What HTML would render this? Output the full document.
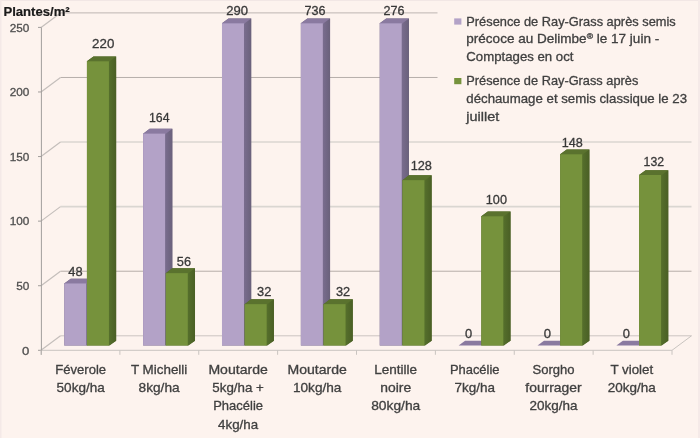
<!DOCTYPE html>
<html><head><meta charset="utf-8"><style>
html,body{margin:0;padding:0;background:#fdf3ee;}
svg{display:block;font-family:"Liberation Sans",sans-serif;will-change:transform;}
</style></head><body>
<svg width="700" height="438" viewBox="0 0 700 438">
<defs>
<linearGradient id="ps" x1="0" y1="0" x2="1" y2="0"><stop offset="0" stop-color="#7a6d8f"/><stop offset="1" stop-color="#6a617b"/></linearGradient>
<linearGradient id="gs" x1="0" y1="0" x2="1" y2="0"><stop offset="0" stop-color="#56702c"/><stop offset="1" stop-color="#4a5f25"/></linearGradient>
</defs>
<rect width="700" height="438" fill="#fdf3ee"/>
<rect x="0" y="0" width="700" height="1" fill="#f2e7e5"/>
<rect x="698" y="0" width="2" height="438" fill="#f5eae8"/>
<rect x="0" y="0" width="1.5" height="438" fill="#f4e9e7"/>
<line x1="60.5" y1="335.8" x2="691.5" y2="335.8" stroke="#cbc4c1" stroke-width="1"/>
<line x1="41" y1="350.3" x2="60.5" y2="335.8" stroke="#c4bebb" stroke-width="1.2"/>
<line x1="60.5" y1="271.22" x2="691.5" y2="271.22" stroke="#b6aeaa" stroke-width="1"/>
<line x1="41" y1="285.72" x2="60.5" y2="271.22" stroke="#c4bebb" stroke-width="1.2"/>
<line x1="60.5" y1="206.64" x2="691.5" y2="206.64" stroke="#dad6d1" stroke-width="1.6"/>
<line x1="41" y1="221.14" x2="60.5" y2="206.64" stroke="#c4bebb" stroke-width="1.2"/>
<line x1="60.5" y1="142.06" x2="691.5" y2="142.06" stroke="#dad6d1" stroke-width="1.6"/>
<line x1="41" y1="156.56" x2="60.5" y2="142.06" stroke="#c4bebb" stroke-width="1.2"/>
<line x1="60.5" y1="77.48" x2="437.5" y2="77.48" stroke="#b6aeaa" stroke-width="1"/>
<line x1="41" y1="91.98" x2="60.5" y2="77.48" stroke="#c4bebb" stroke-width="1.2"/>
<line x1="60.5" y1="12.9" x2="437.5" y2="12.9" stroke="#bdb5b2" stroke-width="1"/>
<line x1="41" y1="27.4" x2="60.5" y2="12.9" stroke="#c4bebb" stroke-width="1.2"/>
<line x1="41" y1="350.3" x2="672" y2="350.3" stroke="#c9c4c0" stroke-width="1"/>
<line x1="672" y1="350.3" x2="691.5" y2="335.8" stroke="#c9c4c0" stroke-width="1"/>
<line x1="41.4" y1="27.4" x2="41.4" y2="354.8" stroke="#a29e9c" stroke-width="1"/>
<line x1="38" y1="350.3" x2="41" y2="350.3" stroke="#a29e9c" stroke-width="1"/>
<line x1="38" y1="285.72" x2="41" y2="285.72" stroke="#a29e9c" stroke-width="1"/>
<line x1="38" y1="221.14" x2="41" y2="221.14" stroke="#a29e9c" stroke-width="1"/>
<line x1="38" y1="156.56" x2="41" y2="156.56" stroke="#a29e9c" stroke-width="1"/>
<line x1="38" y1="91.98" x2="41" y2="91.98" stroke="#a29e9c" stroke-width="1"/>
<line x1="38" y1="27.4" x2="41" y2="27.4" stroke="#a29e9c" stroke-width="1"/>
<line x1="41" y1="350.3" x2="41" y2="354.8" stroke="#c9c4c0" stroke-width="1"/>
<line x1="119.88" y1="350.3" x2="119.88" y2="354.8" stroke="#c9c4c0" stroke-width="1"/>
<line x1="198.75" y1="350.3" x2="198.75" y2="354.8" stroke="#c9c4c0" stroke-width="1"/>
<line x1="277.62" y1="350.3" x2="277.62" y2="354.8" stroke="#c9c4c0" stroke-width="1"/>
<line x1="356.5" y1="350.3" x2="356.5" y2="354.8" stroke="#c9c4c0" stroke-width="1"/>
<line x1="435.38" y1="350.3" x2="435.38" y2="354.8" stroke="#c9c4c0" stroke-width="1"/>
<line x1="514.25" y1="350.3" x2="514.25" y2="354.8" stroke="#c9c4c0" stroke-width="1"/>
<line x1="593.12" y1="350.3" x2="593.12" y2="354.8" stroke="#c9c4c0" stroke-width="1"/>
<line x1="672" y1="350.3" x2="672" y2="354.8" stroke="#c9c4c0" stroke-width="1"/>
<polygon points="64.24,283.47 70.74,278.64 93.44,278.64 93.44,340.63 86.94,345.47 64.24,345.47" fill="#716680"/><polygon points="85.94,283.47 93.44,278.64 93.44,340.63 85.94,345.47" fill="url(#ps)"/><polygon points="64.24,284.07 64.24,283.47 70.74,278.64 93.44,278.64 86.94,283.47 86.94,284.07" fill="#8a7aa0"/><rect x="64.24" y="283.47" width="22" height="62" fill="#b3a2c7"/>
<polygon points="86.94,61.31 93.44,56.48 116.14,56.48 116.14,340.63 109.64,345.47 86.94,345.47" fill="#506628"/><polygon points="108.64,61.31 116.14,56.48 116.14,340.63 108.64,345.47" fill="url(#gs)"/><polygon points="86.94,61.91 86.94,61.31 93.44,56.48 116.14,56.48 109.64,61.31 109.64,61.91" fill="#5a722e"/><rect x="86.94" y="61.31" width="22" height="284.15" fill="#76923c"/>
<polygon points="143.11,133.64 149.61,128.81 172.31,128.81 172.31,340.63 165.81,345.47 143.11,345.47" fill="#716680"/><polygon points="164.81,133.64 172.31,128.81 172.31,340.63 164.81,345.47" fill="url(#ps)"/><polygon points="143.11,134.24 143.11,133.64 149.61,128.81 172.31,128.81 165.81,133.64 165.81,134.24" fill="#8a7aa0"/><rect x="143.11" y="133.64" width="22" height="211.82" fill="#b3a2c7"/>
<polygon points="165.81,273.14 172.31,268.3 195.01,268.3 195.01,340.63 188.51,345.47 165.81,345.47" fill="#506628"/><polygon points="187.51,273.14 195.01,268.3 195.01,340.63 187.51,345.47" fill="url(#gs)"/><polygon points="165.81,273.74 165.81,273.14 172.31,268.3 195.01,268.3 188.51,273.14 188.51,273.74" fill="#5a722e"/><rect x="165.81" y="273.14" width="22" height="72.33" fill="#76923c"/>
<polygon points="221.99,23.34 228.49,18.51 251.19,18.51 251.19,340.63 244.69,345.47 221.99,345.47" fill="#716680"/><polygon points="243.69,23.34 251.19,18.51 251.19,340.63 243.69,345.47" fill="url(#ps)"/><polygon points="221.99,23.94 221.99,23.34 228.49,18.51 251.19,18.51 244.69,23.34 244.69,23.94" fill="#8a7aa0"/><rect x="221.99" y="23.34" width="22" height="322.13" fill="#b3a2c7"/>
<polygon points="244.69,304.14 251.19,299.3 273.89,299.3 273.89,340.63 267.39,345.47 244.69,345.47" fill="#506628"/><polygon points="266.39,304.14 273.89,299.3 273.89,340.63 266.39,345.47" fill="url(#gs)"/><polygon points="244.69,304.74 244.69,304.14 251.19,299.3 273.89,299.3 267.39,304.14 267.39,304.74" fill="#5a722e"/><rect x="244.69" y="304.14" width="22" height="41.33" fill="#76923c"/>
<polygon points="300.86,23.34 307.36,18.51 330.06,18.51 330.06,340.63 323.56,345.47 300.86,345.47" fill="#716680"/><polygon points="322.56,23.34 330.06,18.51 330.06,340.63 322.56,345.47" fill="url(#ps)"/><polygon points="300.86,23.94 300.86,23.34 307.36,18.51 330.06,18.51 323.56,23.34 323.56,23.94" fill="#8a7aa0"/><rect x="300.86" y="23.34" width="22" height="322.13" fill="#b3a2c7"/>
<polygon points="323.56,304.14 330.06,299.3 352.76,299.3 352.76,340.63 346.26,345.47 323.56,345.47" fill="#506628"/><polygon points="345.26,304.14 352.76,299.3 352.76,340.63 345.26,345.47" fill="url(#gs)"/><polygon points="323.56,304.74 323.56,304.14 330.06,299.3 352.76,299.3 346.26,304.14 346.26,304.74" fill="#5a722e"/><rect x="323.56" y="304.14" width="22" height="41.33" fill="#76923c"/>
<polygon points="379.74,23.34 386.24,18.51 408.94,18.51 408.94,340.63 402.44,345.47 379.74,345.47" fill="#716680"/><polygon points="401.44,23.34 408.94,18.51 408.94,340.63 401.44,345.47" fill="url(#ps)"/><polygon points="379.74,23.94 379.74,23.34 386.24,18.51 408.94,18.51 402.44,23.34 402.44,23.94" fill="#8a7aa0"/><rect x="379.74" y="23.34" width="22" height="322.13" fill="#b3a2c7"/>
<polygon points="402.44,180.14 408.94,175.31 431.64,175.31 431.64,340.63 425.14,345.47 402.44,345.47" fill="#506628"/><polygon points="424.14,180.14 431.64,175.31 431.64,340.63 424.14,345.47" fill="url(#gs)"/><polygon points="402.44,180.74 402.44,180.14 408.94,175.31 431.64,175.31 425.14,180.14 425.14,180.74" fill="#5a722e"/><rect x="402.44" y="180.14" width="22" height="165.32" fill="#76923c"/>
<polygon points="458.61,345.47 465.11,340.63 487.81,340.63 481.31,345.47" fill="#8a7aa0"/>
<polygon points="481.31,216.31 487.81,211.47 510.51,211.47 510.51,340.63 504.01,345.47 481.31,345.47" fill="#506628"/><polygon points="503.01,216.31 510.51,211.47 510.51,340.63 503.01,345.47" fill="url(#gs)"/><polygon points="481.31,216.91 481.31,216.31 487.81,211.47 510.51,211.47 504.01,216.31 504.01,216.91" fill="#5a722e"/><rect x="481.31" y="216.31" width="22" height="129.16" fill="#76923c"/>
<polygon points="537.49,345.47 543.99,340.63 566.69,340.63 560.19,345.47" fill="#8a7aa0"/>
<polygon points="560.19,154.31 566.69,149.48 589.39,149.48 589.39,340.63 582.89,345.47 560.19,345.47" fill="#506628"/><polygon points="581.89,154.31 589.39,149.48 589.39,340.63 581.89,345.47" fill="url(#gs)"/><polygon points="560.19,154.91 560.19,154.31 566.69,149.48 589.39,149.48 582.89,154.31 582.89,154.91" fill="#5a722e"/><rect x="560.19" y="154.31" width="22" height="191.16" fill="#76923c"/>
<polygon points="616.36,345.47 622.86,340.63 645.56,340.63 639.06,345.47" fill="#8a7aa0"/>
<polygon points="639.06,174.98 645.56,170.14 668.26,170.14 668.26,340.63 661.76,345.47 639.06,345.47" fill="#506628"/><polygon points="660.76,174.98 668.26,170.14 668.26,340.63 660.76,345.47" fill="url(#gs)"/><polygon points="639.06,175.58 639.06,174.98 645.56,170.14 668.26,170.14 661.76,174.98 661.76,175.58" fill="#5a722e"/><rect x="639.06" y="174.98" width="22" height="170.49" fill="#76923c"/>
<text x="68.25" y="275.7" font-size="13.2" fill="#383838" stroke="#383838" stroke-width="0.3" text-anchor="start" font-weight="normal" textLength="14.3" lengthAdjust="spacingAndGlyphs">48</text>
<text x="92.1" y="48.2" font-size="13.2" fill="#383838" stroke="#383838" stroke-width="0.3" text-anchor="start" font-weight="normal" textLength="22.2" lengthAdjust="spacingAndGlyphs">220</text>
<text x="149" y="121.8" font-size="13.2" fill="#383838" stroke="#383838" stroke-width="0.3" text-anchor="start" font-weight="normal" textLength="20.5" lengthAdjust="spacingAndGlyphs">164</text>
<text x="176.8" y="265.6" font-size="13.2" fill="#383838" stroke="#383838" stroke-width="0.3" text-anchor="start" font-weight="normal" textLength="14.2" lengthAdjust="spacingAndGlyphs">56</text>
<text x="226.2" y="15" font-size="13.2" fill="#383838" stroke="#383838" stroke-width="0.3" text-anchor="start" font-weight="normal" textLength="21.8" lengthAdjust="spacingAndGlyphs">290</text>
<text x="257.05" y="296.4" font-size="13.2" fill="#383838" stroke="#383838" stroke-width="0.3" text-anchor="start" font-weight="normal" textLength="14.3" lengthAdjust="spacingAndGlyphs">32</text>
<text x="304.5" y="14.8" font-size="13.2" fill="#383838" stroke="#383838" stroke-width="0.3" text-anchor="start" font-weight="normal" textLength="21" lengthAdjust="spacingAndGlyphs">736</text>
<text x="335.9" y="296.4" font-size="13.2" fill="#383838" stroke="#383838" stroke-width="0.3" text-anchor="start" font-weight="normal" textLength="14.2" lengthAdjust="spacingAndGlyphs">32</text>
<text x="383.5" y="14.8" font-size="13.2" fill="#383838" stroke="#383838" stroke-width="0.3" text-anchor="start" font-weight="normal" textLength="21" lengthAdjust="spacingAndGlyphs">276</text>
<text x="410.65" y="169.6" font-size="13.2" fill="#383838" stroke="#383838" stroke-width="0.3" text-anchor="start" font-weight="normal" textLength="21.3" lengthAdjust="spacingAndGlyphs">128</text>
<text x="465" y="337.6" font-size="13.2" fill="#383838" stroke="#383838" stroke-width="0.3" text-anchor="start" font-weight="normal" textLength="7.2" lengthAdjust="spacingAndGlyphs">0</text>
<text x="485.8" y="203.5" font-size="13.2" fill="#383838" stroke="#383838" stroke-width="0.3" text-anchor="start" font-weight="normal" textLength="21.2" lengthAdjust="spacingAndGlyphs">100</text>
<text x="543.85" y="337.5" font-size="13.2" fill="#383838" stroke="#383838" stroke-width="0.3" text-anchor="start" font-weight="normal" textLength="7.3" lengthAdjust="spacingAndGlyphs">0</text>
<text x="561.8" y="146.5" font-size="13.2" fill="#383838" stroke="#383838" stroke-width="0.3" text-anchor="start" font-weight="normal" textLength="21" lengthAdjust="spacingAndGlyphs">148</text>
<text x="622.8" y="337.5" font-size="13.2" fill="#383838" stroke="#383838" stroke-width="0.3" text-anchor="start" font-weight="normal" textLength="7.2" lengthAdjust="spacingAndGlyphs">0</text>
<text x="643.55" y="166" font-size="13.2" fill="#383838" stroke="#383838" stroke-width="0.3" text-anchor="start" font-weight="normal" textLength="20.5" lengthAdjust="spacingAndGlyphs">132</text>
<text x="22" y="354.5" font-size="11.5" fill="#4f4f4f" stroke="#4f4f4f" stroke-width="0.3" text-anchor="start" font-weight="normal" textLength="7.3" lengthAdjust="spacingAndGlyphs">0</text>
<text x="16.2" y="289.92" font-size="11.5" fill="#4f4f4f" stroke="#4f4f4f" stroke-width="0.3" text-anchor="start" font-weight="normal" textLength="13.1" lengthAdjust="spacingAndGlyphs">50</text>
<text x="9.7" y="225.34" font-size="11.5" fill="#4f4f4f" stroke="#4f4f4f" stroke-width="0.3" text-anchor="start" font-weight="normal" textLength="19.6" lengthAdjust="spacingAndGlyphs">100</text>
<text x="9.7" y="160.76" font-size="11.5" fill="#4f4f4f" stroke="#4f4f4f" stroke-width="0.3" text-anchor="start" font-weight="normal" textLength="19.6" lengthAdjust="spacingAndGlyphs">150</text>
<text x="9.7" y="96.18" font-size="11.5" fill="#4f4f4f" stroke="#4f4f4f" stroke-width="0.3" text-anchor="start" font-weight="normal" textLength="19.6" lengthAdjust="spacingAndGlyphs">200</text>
<text x="9.7" y="31.6" font-size="11.5" fill="#4f4f4f" stroke="#4f4f4f" stroke-width="0.3" text-anchor="start" font-weight="normal" textLength="19.6" lengthAdjust="spacingAndGlyphs">250</text>
<text x="3.4" y="15.5" font-size="12.5" fill="#1a1a1a" stroke="#1a1a1a" stroke-width="0.2" text-anchor="start" font-weight="bold" textLength="66.3" lengthAdjust="spacingAndGlyphs">Plantes/m²</text>
<text x="55.3" y="374" font-size="12.6" fill="#404040" stroke="#404040" stroke-width="0.3" text-anchor="start" font-weight="normal" textLength="50.8" lengthAdjust="spacingAndGlyphs">Féverole</text>
<text x="56.6" y="392.2" font-size="12.6" fill="#404040" stroke="#404040" stroke-width="0.3" text-anchor="start" font-weight="normal" textLength="48.2" lengthAdjust="spacingAndGlyphs">50kg/ha</text>
<text x="130.9" y="374" font-size="12.6" fill="#404040" stroke="#404040" stroke-width="0.3" text-anchor="start" font-weight="normal" textLength="56.4" lengthAdjust="spacingAndGlyphs">T Michelli</text>
<text x="138.55" y="392.2" font-size="12.6" fill="#404040" stroke="#404040" stroke-width="0.3" text-anchor="start" font-weight="normal" textLength="41.1" lengthAdjust="spacingAndGlyphs">8kg/ha</text>
<text x="208.4" y="374" font-size="12.6" fill="#404040" stroke="#404040" stroke-width="0.3" text-anchor="start" font-weight="normal" textLength="59.4" lengthAdjust="spacingAndGlyphs">Moutarde</text>
<text x="212.35" y="392.2" font-size="12.6" fill="#404040" stroke="#404040" stroke-width="0.3" text-anchor="start" font-weight="normal" textLength="51.5" lengthAdjust="spacingAndGlyphs">5kg/ha +</text>
<text x="213.2" y="410.4" font-size="12.6" fill="#404040" stroke="#404040" stroke-width="0.3" text-anchor="start" font-weight="normal" textLength="49.8" lengthAdjust="spacingAndGlyphs">Phacélie</text>
<text x="218.1" y="428.6" font-size="12.6" fill="#404040" stroke="#404040" stroke-width="0.3" text-anchor="start" font-weight="normal" textLength="40" lengthAdjust="spacingAndGlyphs">4kg/ha</text>
<text x="287.5" y="374" font-size="12.6" fill="#404040" stroke="#404040" stroke-width="0.3" text-anchor="start" font-weight="normal" textLength="59.4" lengthAdjust="spacingAndGlyphs">Moutarde</text>
<text x="292.95" y="392.2" font-size="12.6" fill="#404040" stroke="#404040" stroke-width="0.3" text-anchor="start" font-weight="normal" textLength="48.5" lengthAdjust="spacingAndGlyphs">10kg/ha</text>
<text x="374.3" y="374" font-size="12.6" fill="#404040" stroke="#404040" stroke-width="0.3" text-anchor="start" font-weight="normal" textLength="42.8" lengthAdjust="spacingAndGlyphs">Lentille</text>
<text x="380.25" y="392.2" font-size="12.6" fill="#404040" stroke="#404040" stroke-width="0.3" text-anchor="start" font-weight="normal" textLength="30.9" lengthAdjust="spacingAndGlyphs">noire</text>
<text x="371.15" y="410.4" font-size="12.6" fill="#404040" stroke="#404040" stroke-width="0.3" text-anchor="start" font-weight="normal" textLength="49.1" lengthAdjust="spacingAndGlyphs">80kg/ha</text>
<text x="449.9" y="374" font-size="12.6" fill="#404040" stroke="#404040" stroke-width="0.3" text-anchor="start" font-weight="normal" textLength="49.6" lengthAdjust="spacingAndGlyphs">Phacélie</text>
<text x="454.45" y="392.2" font-size="12.6" fill="#404040" stroke="#404040" stroke-width="0.3" text-anchor="start" font-weight="normal" textLength="40.5" lengthAdjust="spacingAndGlyphs">7kg/ha</text>
<text x="532.45" y="374" font-size="12.6" fill="#404040" stroke="#404040" stroke-width="0.3" text-anchor="start" font-weight="normal" textLength="42.1" lengthAdjust="spacingAndGlyphs">Sorgho</text>
<text x="525.3" y="392.2" font-size="12.6" fill="#404040" stroke="#404040" stroke-width="0.3" text-anchor="start" font-weight="normal" textLength="56.4" lengthAdjust="spacingAndGlyphs">fourrager</text>
<text x="529.5" y="410.4" font-size="12.6" fill="#404040" stroke="#404040" stroke-width="0.3" text-anchor="start" font-weight="normal" textLength="48" lengthAdjust="spacingAndGlyphs">20kg/ha</text>
<text x="610.4" y="374" font-size="12.6" fill="#404040" stroke="#404040" stroke-width="0.3" text-anchor="start" font-weight="normal" textLength="42.8" lengthAdjust="spacingAndGlyphs">T violet</text>
<text x="607.8" y="392.2" font-size="12.6" fill="#404040" stroke="#404040" stroke-width="0.3" text-anchor="start" font-weight="normal" textLength="48" lengthAdjust="spacingAndGlyphs">20kg/ha</text>
<rect x="454.2" y="18.4" width="7.2" height="6.2" fill="#b3a2c7"/>
<rect x="454.2" y="78" width="7.2" height="6.2" fill="#76923c"/>
<text x="466.3" y="25.6" font-size="12.6" fill="#404040" stroke="#404040" stroke-width="0.3" text-anchor="start" font-weight="normal" textLength="209.4" lengthAdjust="spacingAndGlyphs">Présence de Ray-Grass après semis</text>
<text x="466.3" y="43.4" font-size="12.6" fill="#404040" stroke="#404040" stroke-width="0.3" text-anchor="start" font-weight="normal" textLength="192.9" lengthAdjust="spacingAndGlyphs">précoce au Delimbe<tspan font-size="8" dy="-4">®</tspan><tspan dy="4"> le 17 juin -</tspan></text>
<text x="466.3" y="61" font-size="12.6" fill="#404040" stroke="#404040" stroke-width="0.3" text-anchor="start" font-weight="normal" textLength="107.2" lengthAdjust="spacingAndGlyphs">Comptages en oct</text>
<text x="466.3" y="85.4" font-size="12.6" fill="#404040" stroke="#404040" stroke-width="0.3" text-anchor="start" font-weight="normal" textLength="172" lengthAdjust="spacingAndGlyphs">Présence de Ray-Grass après</text>
<text x="466.3" y="103.1" font-size="12.6" fill="#404040" stroke="#404040" stroke-width="0.3" text-anchor="start" font-weight="normal" textLength="220.8" lengthAdjust="spacingAndGlyphs">déchaumage et semis classique le 23</text>
<text x="466.3" y="120.8" font-size="12.6" fill="#404040" stroke="#404040" stroke-width="0.3" text-anchor="start" font-weight="normal" textLength="32.9" lengthAdjust="spacingAndGlyphs">juillet</text>
</svg>
</body></html>
